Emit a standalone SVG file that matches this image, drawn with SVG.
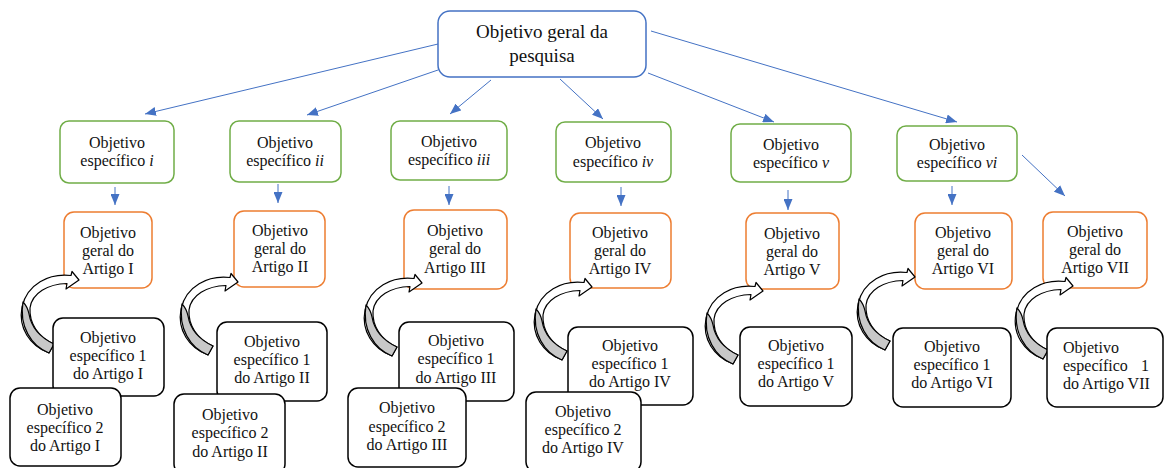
<svg xmlns="http://www.w3.org/2000/svg" width="1165" height="468" viewBox="0 0 1165 468">
<style>
text{font-family:"Liberation Serif","Times New Roman",serif;font-size:16px;fill:#111;text-anchor:middle}
.top{font-size:19px}
.g{fill:#fff;stroke:#70AD47;stroke-width:1.5}
.o{fill:#fff;stroke:#ED7D31;stroke-width:1.5}
.k{fill:#fff;stroke:#000;stroke-width:1.5}
.b{fill:#fff;stroke:#4472C4;stroke-width:1.5}
.c{stroke:#4472C4;stroke-width:1;fill:none}
.l{text-anchor:start}
</style>
<defs>
<marker id="ah" markerUnits="userSpaceOnUse" markerWidth="11" markerHeight="9" refX="11" refY="4.5" orient="auto">
<path d="M0,0 L11,4.5 L0,9 Z" fill="#4472C4"/>
</marker>
<g id="curl">
<path d="M0,0 L-7,-8.5 L-8,-4.5 C-30,-7 -52,4 -57,27 C-61,48 -49,66 -30,73 L-25,64 C-41,57 -50,43 -49,28 C-47,13 -31,4 -12,3.5 L-13,9 Z" fill="#fff" stroke="#000" stroke-width="1.2" stroke-linejoin="round"/>
<path d="M-56,22 C-60,46 -48,66 -30,73 L-25,64 C-40,57 -48,46 -50,34 C-51,29 -53,25 -56,22 Z" fill="#c8c8c8" stroke="#000" stroke-width="1.2" stroke-linejoin="round"/>
</g>
</defs>

<g id="connectors">
<line class="c" x1="438" y1="44" x2="145" y2="114" marker-end="url(#ah)"/>
<line class="c" x1="438" y1="70" x2="307" y2="115" marker-end="url(#ah)"/>
<line class="c" x1="491" y1="80" x2="450" y2="114" marker-end="url(#ah)"/>
<line class="c" x1="560" y1="79" x2="603" y2="119" marker-end="url(#ah)"/>
<line class="c" x1="648" y1="73" x2="774" y2="122" marker-end="url(#ah)"/>
<line class="c" x1="651" y1="31" x2="957" y2="122" marker-end="url(#ah)"/>
<line class="c" x1="1022" y1="155" x2="1065" y2="196" marker-end="url(#ah)"/>
<line class="c" x1="115" y1="187" x2="115" y2="205" marker-end="url(#ah)"/>
<line class="c" x1="278" y1="184" x2="278" y2="203" marker-end="url(#ah)"/>
<line class="c" x1="449" y1="186" x2="449" y2="205" marker-end="url(#ah)"/>
<line class="c" x1="621" y1="187" x2="621" y2="206" marker-end="url(#ah)"/>
<line class="c" x1="788" y1="190" x2="788" y2="210" marker-end="url(#ah)"/>
<line class="c" x1="952" y1="186" x2="952" y2="205" marker-end="url(#ah)"/>
</g>

<g id="top">
<rect class="b" x="438" y="11" width="208" height="66" rx="12"/>
<text class="top" x="542" y="38">Objetivo geral da</text>
<text class="top" x="542" y="62">pesquisa</text>
</g>

<g id="spec-i"><rect class="g" x="60" y="121" width="114" height="62" rx="9"/>
<text x="117" y="148">Objetivo</text><text x="117" y="166">específico <tspan font-style="italic">i</tspan></text></g>
<g id="spec-ii"><rect class="g" x="230" y="121" width="111" height="61" rx="9"/>
<text x="285" y="148">Objetivo</text><text x="285" y="166">específico <tspan font-style="italic">ii</tspan></text></g>
<g id="spec-iii"><rect class="g" x="391" y="121" width="116" height="59" rx="9"/>
<text x="449" y="147">Objetivo</text><text x="449" y="165">específico <tspan font-style="italic">iii</tspan></text></g>
<g id="spec-iv"><rect class="g" x="556" y="122" width="115" height="60" rx="9"/>
<text x="613" y="148">Objetivo</text><text x="613" y="167">específico <tspan font-style="italic">iv</tspan></text></g>
<g id="spec-v"><rect class="g" x="731" y="124" width="120" height="58" rx="9"/>
<text x="791" y="150">Objetivo</text><text x="791" y="168">específico <tspan font-style="italic">v</tspan></text></g>
<g id="spec-vi"><rect class="g" x="897" y="126" width="120" height="55" rx="9"/>
<text x="957" y="150">Objetivo</text><text x="957" y="168">específico <tspan font-style="italic">vi</tspan></text></g>

<g id="art-I"><rect class="o" x="64" y="212" width="88" height="76" rx="10"/>
<text x="108" y="238">Objetivo</text><text x="108" y="256">geral do</text><text x="108" y="274">Artigo I</text></g>
<g id="art-II"><rect class="o" x="234" y="211" width="91" height="76" rx="10"/>
<text x="280" y="236">Objetivo</text><text x="280" y="254">geral do</text><text x="280" y="272">Artigo II</text></g>
<g id="art-III"><rect class="o" x="404" y="210" width="103" height="79" rx="10"/>
<text x="455" y="236">Objetivo</text><text x="455" y="254">geral do</text><text x="455" y="273">Artigo III</text></g>
<g id="art-IV"><rect class="o" x="570" y="213" width="101" height="75" rx="10"/>
<text x="620" y="238">Objetivo</text><text x="620" y="256">geral do</text><text x="620" y="274">Artigo IV</text></g>
<g id="art-V"><rect class="o" x="746" y="213" width="93" height="76" rx="10"/>
<text x="792" y="239">Objetivo</text><text x="792" y="257">geral do</text><text x="792" y="275">Artigo V</text></g>
<g id="art-VI"><rect class="o" x="915" y="213" width="97" height="76" rx="10"/>
<text x="963" y="238">Objetivo</text><text x="963" y="256">geral do</text><text x="963" y="274">Artigo VI</text></g>
<g id="art-VII"><rect class="o" x="1043" y="212" width="104" height="76" rx="10"/>
<text x="1095" y="237">Objetivo</text><text x="1095" y="255">geral do</text><text x="1095" y="273">Artigo VII</text></g>

<g id="curved-arrows">
<use href="#curl" transform="translate(79,280)"/>
<use href="#curl" transform="translate(238,282)"/>
<use href="#curl" transform="translate(422,283)"/>
<use href="#curl" transform="translate(592,287)"/>
<use href="#curl" transform="translate(763,291)"/>
<use href="#curl" transform="translate(915,277)"/>
<use href="#curl" transform="translate(1073,286)"/>
</g>

<g id="s1-I"><rect class="k" x="53" y="318" width="111" height="78" rx="10"/>
<text x="108" y="343">Objetivo</text><text x="108" y="361">específico 1</text><text x="108" y="379">do Artigo I</text></g>
<g id="s1-II"><rect class="k" x="217" y="322" width="110" height="79" rx="10"/>
<text x="272" y="347">Objetivo</text><text x="272" y="365">específico 1</text><text x="272" y="383">do Artigo II</text></g>
<g id="s1-III"><rect class="k" x="399" y="322" width="115" height="79" rx="10"/>
<text x="456" y="346">Objetivo</text><text x="456" y="364">específico 1</text><text x="456" y="383">do Artigo III</text></g>
<g id="s1-IV"><rect class="k" x="568" y="327" width="125" height="78" rx="10"/>
<text x="630" y="351">Objetivo</text><text x="630" y="369">específico 1</text><text x="630" y="387">do Artigo IV</text></g>
<g id="s1-V"><rect class="k" x="740" y="327" width="112" height="79" rx="10"/>
<text x="796" y="351">Objetivo</text><text x="796" y="369">específico 1</text><text x="796" y="387">do Artigo V</text></g>
<g id="s1-VI"><rect class="k" x="893" y="328" width="118" height="79" rx="10"/>
<text x="952" y="352">Objetivo</text><text x="952" y="370">específico 1</text><text x="952" y="388">do Artigo VI</text></g>
<g id="s1-VII"><rect class="k" x="1047" y="328" width="116" height="79" rx="10"/>
<text class="l" x="1063" y="353">Objetivo</text><text class="l" x="1063" y="371">específico<tspan x="1141">1</tspan></text><text class="l" x="1063" y="389">do Artigo VII</text></g>

<g id="s2-I"><rect class="k" x="10" y="388" width="111" height="78" rx="10"/>
<text x="65" y="415">Objetivo</text><text x="65" y="433">específico 2</text><text x="65" y="451">do Artigo I</text></g>
<g id="s2-II"><rect class="k" x="174" y="394" width="111" height="80" rx="10"/>
<text x="230" y="420">Objetivo</text><text x="230" y="438">específico 2</text><text x="230" y="457">do Artigo II</text></g>
<g id="s2-III"><rect class="k" x="348" y="388" width="118" height="79" rx="10"/>
<text x="407" y="413">Objetivo</text><text x="407" y="432">específico 2</text><text x="407" y="450">do Artigo III</text></g>
<g id="s2-IV"><rect class="k" x="526" y="392" width="115" height="80" rx="10"/>
<text x="583" y="417">Objetivo</text><text x="583" y="435">específico 2</text><text x="583" y="453">do Artigo IV</text></g>
</svg>
